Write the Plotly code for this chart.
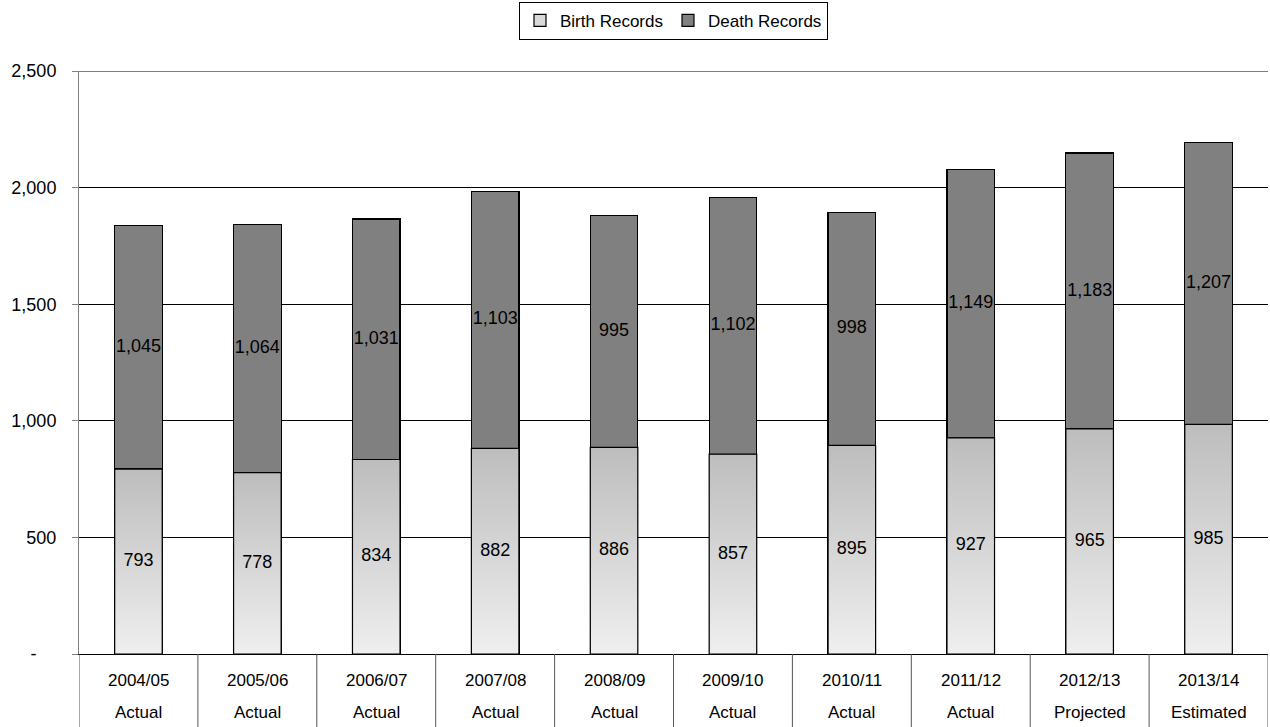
import plotly.graph_objects as go

# Vital records processed per financial year
years = ["2004/05", "2005/06", "2006/07", "2007/08", "2008/09",
         "2009/10", "2010/11", "2011/12", "2012/13", "2013/14"]
status = ["Actual", "Actual", "Actual", "Actual", "Actual",
          "Actual", "Actual", "Actual", "Projected", "Estimated"]
birth = [793, 778, 834, 882, 886, 857, 895, 927, 965, 985]
death = [1045, 1064, 1031, 1103, 995, 1102, 998, 1149, 1183, 1207]

y_ticks = [0, 500, 1000, 1500, 2000, 2500]
y_tick_text = ["-\u00a0\u00a0\u00a0\u00a0", "500", "1,000", "1,500", "2,000", "2,500"]

FONT = "Arial, 'Liberation Sans', sans-serif"
BAR_W = 0.4
FS = 18

x = list(range(len(years)))
fig = go.Figure()

# Births (solid fill used for the legend swatch)
fig.add_trace(go.Bar(
    x=x, y=birth, width=BAR_W, name="Birth Records",
    marker=dict(color="#d9d9d9", line=dict(color="black", width=1.2)),
    hoverinfo="skip",
))
# Deaths stacked on top
fig.add_trace(go.Bar(
    x=x, y=death, width=BAR_W, name="Death Records",
    marker=dict(color="#808080", line=dict(color="black", width=1.2)),
    hoverinfo="skip",
))

# Gradient shading of each birth bar (light at the bottom, darker at the top)
for xi, b in zip(x, birth):
    fig.add_trace(go.Scatter(
        x=[xi - BAR_W / 2, xi + BAR_W / 2, xi + BAR_W / 2, xi - BAR_W / 2, xi - BAR_W / 2],
        y=[0, 0, b, b, 0],
        mode="lines", fill="toself",
        fillgradient=dict(type="vertical",
                          colorscale=[[0, "#efefef"], [1, "#bdbdbd"]]),
        line=dict(color="black", width=1.2),
        showlegend=False, hoverinfo="skip",
    ))

# Value labels centred in each segment
fig.add_trace(go.Scatter(
    x=x, y=[b / 2 for b in birth], mode="text",
    text=[f"{v:,}" for v in birth],
    textfont=dict(family=FONT, size=FS, color="black"),
    showlegend=False, hoverinfo="skip",
))
fig.add_trace(go.Scatter(
    x=x, y=[b + d / 2 for b, d in zip(birth, death)], mode="text",
    text=[f"{v:,}" for v in death],
    textfont=dict(family=FONT, size=FS, color="black"),
    showlegend=False, hoverinfo="skip",
))

# Top gridline at the axis maximum, plus the category table below the axis
shapes = [dict(type="line", xref="paper", yref="y", x0=0, x1=1,
               y0=y_ticks[-1], y1=y_ticks[-1],
               line=dict(color="black", width=1), layer="below")]
for i in range(len(years) + 1):
    shapes.append(dict(type="line", xref="x", yref="paper",
                       x0=i - 0.5, x1=i - 0.5, y0=0, y1=-0.2,
                       line=dict(color="#555555", width=1)))

annotations = []
for xi, yr, st in zip(x, years, status):
    annotations.append(dict(x=xi, y=-0.0446, xref="x", yref="paper",
                            text=yr, showarrow=False, yanchor="middle",
                            font=dict(family=FONT, size=FS - 1, color="black")))
    annotations.append(dict(x=xi, y=-0.1012, xref="x", yref="paper",
                            text=st, showarrow=False, yanchor="middle",
                            font=dict(family=FONT, size=FS - 1, color="black")))

fig.update_layout(
    width=1270, height=727,
    margin=dict(l=79, r=2, t=71, b=73),
    barmode="stack",
    paper_bgcolor="white", plot_bgcolor="white",
    font=dict(family=FONT, size=FS, color="black"),
    shapes=shapes, annotations=annotations,
    legend=dict(orientation="h", x=0.5, xanchor="center",
                y=1.1185, yanchor="top",
                bordercolor="black", borderwidth=1,
                font=dict(family=FONT, size=FS - 1),
                itemwidth=30, traceorder="normal"),
    xaxis=dict(range=[-0.5, 9.5], showticklabels=False, showgrid=False,
               zeroline=False, showline=True, linecolor="black",
               linewidth=1, ticks="", fixedrange=True),
    yaxis=dict(range=[0, 2500], tickvals=y_ticks, ticktext=y_tick_text,
               showgrid=True, gridcolor="black", gridwidth=1,
               zeroline=False, showline=True, linecolor="#808080",
               linewidth=1, ticks="outside", ticklen=6, tickcolor="#808080",
               ticklabelstandoff=12,
               tickfont=dict(family=FONT, size=FS), fixedrange=True),
)

fig.write_html("out.html")
